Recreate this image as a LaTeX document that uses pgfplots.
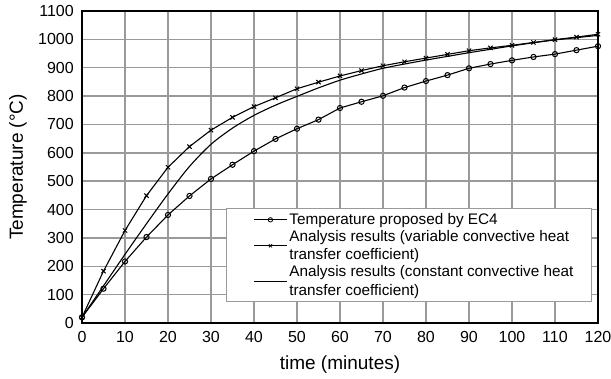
\documentclass[border=0pt]{standalone}
\usepackage{pgfplots}
\pgfplotsset{compat=1.18}
\usepackage{fontspec}
\setmainfont{Liberation Sans}
\definecolor{gridgray}{HTML}{9A9A9A}
\begin{document}
\begin{tikzpicture}
\useasboundingbox (-82pt,-55pt) rectangle (529pt,323pt);
\begin{axis}[
  at={(0,0)}, anchor=south west,
  width=516pt, height=312pt, scale only axis,
  xmin=0, xmax=120, ymin=0, ymax=1100,
  xtick={0,10,...,120}, ytick={0,100,...,1100},
  major tick length=0pt,
  grid=major,
  major grid style={gridgray, line width=1.5pt},
  axis line style={black, line width=2pt},
  /pgf/number format/assume math mode=true,
  /pgf/number format/1000 sep={},
  tick label style={font=\fontsize{16}{19}\selectfont, inner sep=0pt},
  yticklabel style={anchor=east, xshift=-8pt},
  xticklabel style={anchor=north, yshift=-8.5pt},
  xlabel={time (minutes)},
  ylabel={Temperature (°C)},
  label style={font=\fontsize{19}{22}\selectfont},
  xlabel style={at={(axis description cs:0.5,-0.1346)}, anchor=center},
  ylabel style={at={(axis description cs:-0.124,0.5)}, anchor=center},
  legend style={at={(rel axis cs:0.988,0.067)}, anchor=south east,
    draw=gridgray, line width=0.8pt, fill=white,
    font=\fontsize{15.3}{18.7}\selectfont,
    cells={align=left}, row sep=0pt, inner xsep=16pt, inner ysep=3pt},
  legend cell align=left,
  legend image code/.code={
    \path (-11pt,0pt);
    \draw[#1, line width=0.9pt] (0cm,0cm) -- (33pt,0cm);
    \draw[#1, line width=0.8pt, mark size=2.2pt, mark options={fill=white}] plot coordinates {(16.5pt,0cm)};
  },
]
\addplot[black, line width=1.1pt, mark=o, mark size=2.6pt, mark options={line width=1pt}] coordinates {
(0,20) (5,121) (10,217) (15,303) (20,381) (25,448) (30,508) (35,558) (40,606)
(45,649) (50,685) (55,717) (60,758) (65,780) (70,801) (75,830) (80,853)
(85,874) (90,898) (95,913) (100,926) (105,938) (110,948) (115,962) (120,976)};
\addlegendentry{Temperature proposed by EC4}
\addplot[black, line width=1.1pt, mark=x, mark size=3pt, mark options={line width=1pt}] coordinates {
(0,20) (5,183) (10,326) (15,449) (20,549) (25,622) (30,680) (35,725) (40,763)
(45,794) (50,826) (55,849) (60,871) (65,890) (70,907) (75,921) (80,934)
(85,947) (90,960) (95,970) (100,979) (105,989) (110,999) (115,1008) (120,1018)};
\addlegendentry{Analysis results (variable convective heat\\transfer coefficient)}
\addplot[black, line width=1.1pt, smooth, mark=none] coordinates {
(0,20) (5,131) (10,242) (15,350) (20,455) (25,552) (30,630) (35,687) (40,732)
(45,768) (50,799) (55,829) (60,856) (65,878) (70,898) (75,913) (80,927)
(85,940) (90,953) (95,965) (100,977) (105,988) (110,998) (115,1006) (120,1014)};
\addlegendentry{Analysis results (constant convective heat\\transfer coefficient)}
\end{axis}
\end{tikzpicture}
\end{document}
